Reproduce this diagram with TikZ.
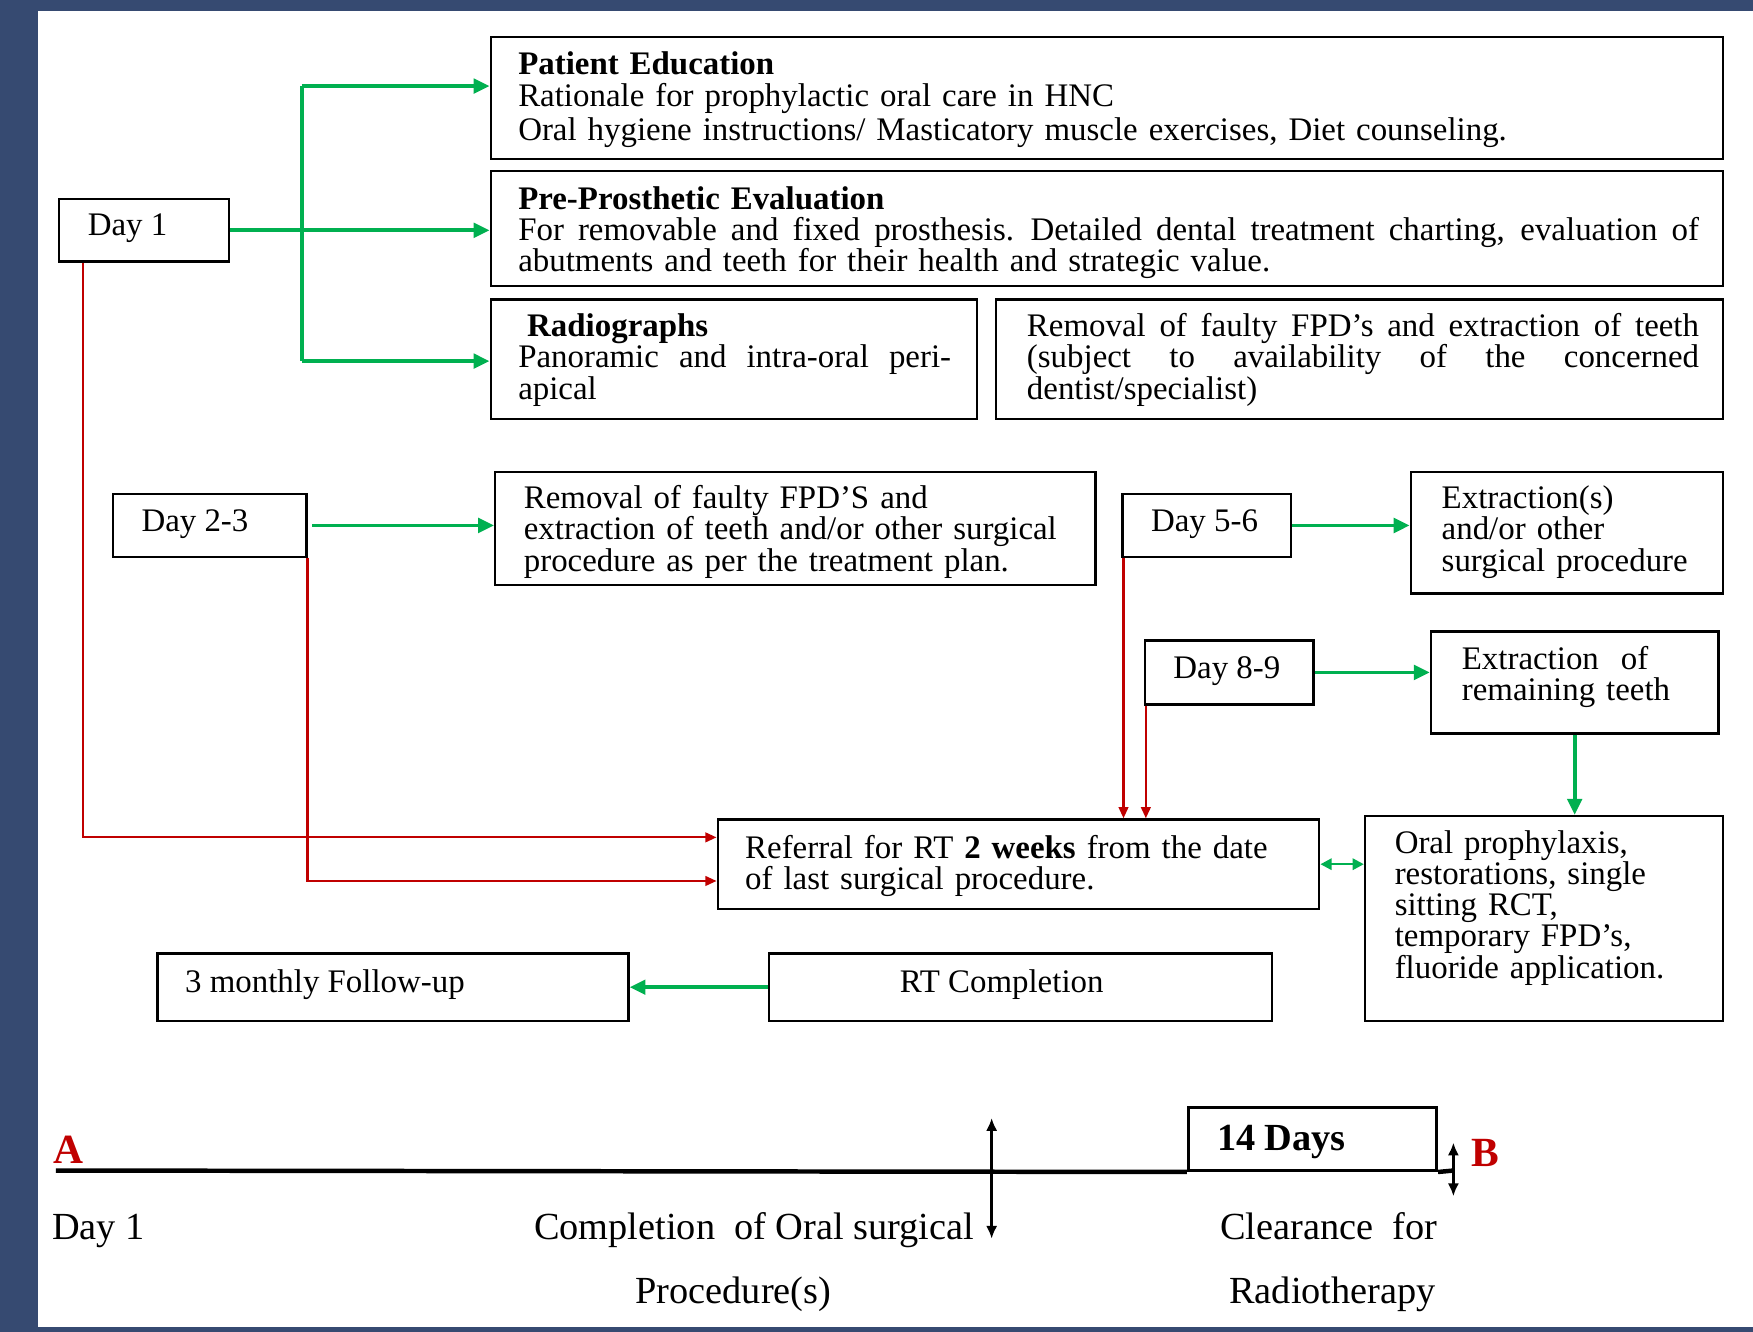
\documentclass[tikz,border=0pt]{standalone}
\usepackage{fontspec}
\setmainfont{Liberation Serif}
\usetikzlibrary{arrows.meta,fit,calc}
\definecolor{bgblue}{RGB}{54,74,113}
\definecolor{agreen}{RGB}{0,176,80}
\definecolor{ared}{RGB}{192,0,0}
\newcommand\jline[2]{\leavevmode\hbox to #1{\spaceskip=0.25em plus 1fil\relax #2}}
\begin{document}
\begin{tikzpicture}[x=0.35pt,y=-0.35pt,
  box/.style={draw=black, line width=0.75pt, inner sep=0pt},
  txt/.style={inner sep=0pt, anchor=base west, font=\fontsize{10.3}{9.8}\selectfont},
  mtxt/.style={txt, text width=#1, align=left},
  ttxt/.style={inner sep=0pt, anchor=base west, font=\fontsize{12}{14}\selectfont},
  garr/.style={draw=agreen, line width=1.2pt, -{Triangle[length=5pt,width=4.5pt]}},
  gline/.style={draw=agreen, line width=1.2pt},
  gdbl/.style={draw=agreen, line width=0.8pt, {Triangle[length=3.5pt,width=3.5pt]}-{Triangle[length=3.5pt,width=3.5pt]}},
  rarr/.style={draw=ared, line width=0.7pt, -{Triangle[length=3.5pt,width=3pt]}},
  kdbl/.style={draw=black, line width=0.8pt, {Latex[length=4pt,width=3.5pt]}-{Latex[length=4pt,width=3.5pt]}},
  tline/.style={draw=black, line width=1.4pt}
]
\useasboundingbox (0,0) rectangle (1568,1191);
\fill[bgblue] (0,0) rectangle (1568,1191);
\fill[white] (34,10) rectangle (1568,1187);

% boxes
\node[box, fit={(439,33) (1541,142)}] (pe) {};
\node[box, fit={(439,153) (1541,256)}] (pp) {};
\node[box, fit={(439,268) (874,375)}] (rad) {};
\node[box, fit={(891,268) (1541,375)}] (rm1) {};
\node[box, fit={(53,178) (205,234)}] (day1) {};
\node[box, fit={(101,442) (274,498)}] (day2) {};
\node[box, fit={(443,422) (980,523)}] (rm2) {};
\node[box, fit={(1004,442) (1155,498)}] (day5) {};
\node[box, fit={(1262,422) (1541,531)}] (ext1) {};
\node[box, fit={(1024,573) (1175,630)}] (day8) {};
\node[box, fit={(1280,565) (1537,656)}] (ext2) {};
\node[box, fit={(642,733) (1180,813)}] (ref) {};
\node[box, fit={(1221,730) (1541,913)}] (oral) {};
\node[box, fit={(141,853) (562,913)}] (fu) {};
\node[box, fit={(688,853) (1138,913)}] (rtc) {};

% texts
\node[mtxt=380pt] (pet) at (463,67) {\textbf{Patient Education}\\ Rationale for prophylactic oral care in HNC\\[1pt] Oral hygiene instructions/ Masticatory muscle exercises, Diet counseling.};
\node[mtxt=380pt] (ppt) at (463,187) {\textbf{Pre-Prosthetic Evaluation}\\ \jline{369.6pt}{For removable and fixed prosthesis. Detailed dental treatment charting, evaluation of}\\ abutments and teeth for their health and strategic value.};
\node[mtxt=140pt] (radt) at (463,301) {\hspace*{2.8pt}\textbf{Radiographs}\\ \jline{135.5pt}{Panoramic and intra-oral peri-}\\ apical};
\node[mtxt=215pt] (rm1t) at (918,301) {\jline{210.4pt}{Removal of faulty FPD’s and extraction of teeth}\\ \jline{210.4pt}{(subject to availability of the concerned}\\ dentist/specialist)};
\node[txt] (d1t) at (78,211) {Day 1};
\node[txt] (d2t) at (126,475) {Day 2-3};
\node[txt] (d5t) at (1029,475) {Day 5-6};
\node[txt] (d8t) at (1049,607) {Day 8-9};
\node[mtxt=200pt] (rm2t) at (468,455) {Removal of faulty FPD’S and\\ extraction of teeth and/or other surgical\\ procedure as per the treatment plan.};
\node[mtxt=100pt] (ext1t) at (1289,455) {Extraction(s)\\ and/or other\\ surgical procedure};
\node[mtxt=100pt] (ext2t) at (1307,599) {Extraction\ \ of\\ remaining teeth};
\node[mtxt=200pt] (reft) at (666,768) {Referral for RT \textbf{2 weeks} from the date\\ of last surgical procedure.};
\node[mtxt=120pt] (oralt) at (1247,763) {Oral prophylaxis,\\ restorations, single\\ sitting RCT,\\ temporary FPD’s,\\ fluoride application.};
\node[txt] (fut) at (165,888) {3 monthly Follow-up};
\node[txt, anchor=base] (rtt) at (896,888) {RT Completion};

% green connectors
\coordinate (t1) at (270,77);
\coordinate (t2) at (270,323);
\draw[gline] (t1) -- (t2);
\draw[garr] (t1) -- (pe.west |- t1);
\draw[garr] (t2) -- (rad.west |- t2);
\draw[garr] (day1.east) -- (pp.west |- day1.east);
\draw[garr] ([xshift=1.4pt]day2.east) -- (rm2.west |- day2.east);
\draw[garr] (day5.east) -- (ext1.west |- day5.east);
\draw[garr] (day8.east) -- (ext2.west |- day8.east);
\draw[garr] (ext2.south) -- (ext2.south |- oral.north);
\draw[garr] (rtc.west) -- (fu.east |- rtc.west);
\draw[gdbl] (ref.east) -- (oral.west |- ref.east);

% red connectors
\draw[rarr] (day1.south -| 74,0) |- (ref.west |- 0,749);
\draw[rarr] (day2.south east) |- (ref.west |- 0,788);
\draw[rarr] ([xshift=0.7pt]day5.south west) -- ([xshift=0.7pt]day5.south west |- ref.north);
\draw[rarr] ([xshift=0.7pt]day8.south west) -- ([xshift=0.7pt]day8.south west |- ref.north);

% timeline
\node[draw=black, line width=0.9pt, inner sep=0pt, fit={(1063,991) (1285,1047)}] (days) {};
\node[ttxt] (dayst) at (1088,1029) {\textbf{14 Days}};
\coordinate (tA) at (50,1047);
\coordinate (tB) at (1300,1047);
\draw[tline] (tA) -- (days.south west);
\draw[tline] (days.south east) -- (tB);
\coordinate (m1) at (887,1000);
\coordinate (m2) at (887,1108);
\draw[kdbl] (m1) -- (m2);
\coordinate (b1) at (1300,1022);
\coordinate (b2) at (1300,1070);
\draw[kdbl] (b1) -- (b2);
\node[ttxt, text=ared, font=\fontsize{13}{15}\selectfont] (la) at (47,1041) {\textbf{A}};
\node[ttxt, text=ared, font=\fontsize{13}{15}\selectfont] (lb) at (1316,1043) {\textbf{B}};
\node[ttxt] (tl1) at (46,1109) {Day 1};
\node[ttxt, anchor=base east] (tl2) at (872,1109) {Completion\ \ of Oral surgical};
\node[ttxt, anchor=base] (tl3) at (656,1166) {Procedure(s)};
\node[ttxt] (tl4) at (1091,1109) {Clearance\ \ for};
\node[ttxt] (tl5) at (1099,1166) {Radiotherapy};
\end{tikzpicture}
\end{document}
